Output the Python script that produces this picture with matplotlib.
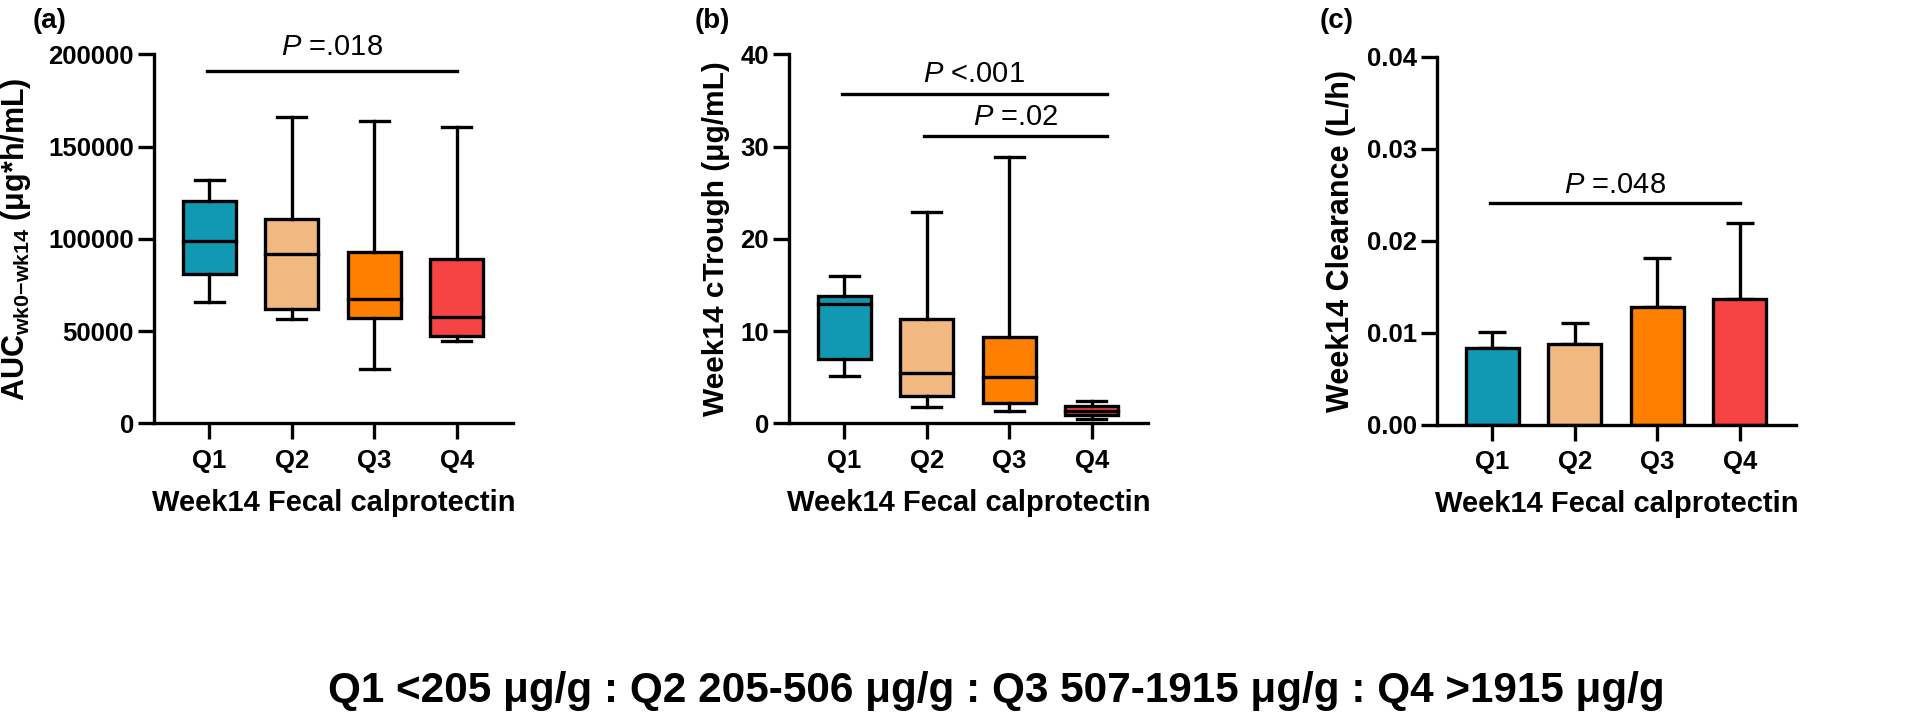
import numpy as np
import matplotlib
matplotlib.use("Agg")
import matplotlib.pyplot as plt
from matplotlib.ticker import FormatStrFormatter

plt.rcParams['font.family'] = ['Liberation Sans', 'DejaVu Sans']
plt.rcParams['font.weight'] = 'bold'
plt.rcParams['mathtext.fontset'] = 'custom'
plt.rcParams['mathtext.rm'] = 'Liberation Sans:bold'
plt.rcParams['mathtext.it'] = 'Liberation Sans:italic:normal'
plt.rcParams['mathtext.bf'] = 'Liberation Sans:bold'

# data
groups = ["Q1", "Q2", "Q3", "Q4"]
colors = ["#1199B4", "#F1B880", "#FF8000", "#F64343"]

# panel a: AUC wk0-wk14 (whislo, q1, med, q3, whishi)
auc_low = [65900, 56500, 29400, 44600]
auc_q1 = [80900, 62100, 57300, 47500]
auc_med = [98600, 91800, 67600, 57500]
auc_q3 = [120500, 110700, 92700, 88900]
auc_high = [131700, 165900, 163900, 160600]

# panel b: week14 cTrough
ctr_low = [5.13, 1.73, 1.34, 0.43]
ctr_q1 = [6.97, 2.96, 2.17, 0.90]
ctr_med = [12.97, 5.46, 4.99, 1.30]
ctr_q3 = [13.84, 11.3, 9.39, 1.92]
ctr_high = [15.94, 22.9, 28.9, 2.46]

# panel c: week14 clearance, mean + upper error
clr_mean = [0.00837, 0.0088, 0.01275, 0.01366]
clr_err = [0.00167, 0.00225, 0.00537, 0.00826]

LW = 2.4
x = np.arange(1, 5)

fig = plt.figure(figsize=(19.2, 7.16), dpi=100)
W = 359 / 1920
ax_a = fig.add_axes([154 / 1920, 1 - 423.3 / 716, W, 369 / 716])
ax_b = fig.add_axes([789 / 1920, 1 - 423.3 / 716, W, 369 / 716])
ax_c = fig.add_axes([1437 / 1920, 1 - 424.7 / 716, W, 368 / 716])


def style(ax, ylim, yticks):
    ax.set_xlim(0.333, 4.68)
    ax.set_ylim(*ylim)
    ax.set_yticks(yticks)
    ax.set_xticks(x)
    ax.set_xticklabels(groups)
    for s in ["top", "right"]:
        ax.spines[s].set_visible(False)
    for s in ["left", "bottom"]:
        ax.spines[s].set_linewidth(LW)
    ax.tick_params(axis="both", width=LW, length=11.5, labelsize=18.5)
    ax.tick_params(axis="x", pad=7)
    ax.tick_params(axis="y", pad=3)
    ax.set_xlabel("Week14 Fecal calprotectin", fontsize=21, fontweight="bold")
    ax.xaxis.set_label_coords(0.5, -0.178)


def boxes(ax, lo, q1, med, q3, hi):
    stats = []
    for i in range(4):
        stats.append(dict(whislo=lo[i], q1=q1[i], med=med[i], q3=q3[i], whishi=hi[i]))
    bp = ax.bxp(stats, positions=x, widths=0.64, showfliers=False, patch_artist=True,
                capwidths=0.35,
                boxprops=dict(linewidth=LW, edgecolor="black"),
                whiskerprops=dict(linewidth=LW, color="black"),
                capprops=dict(linewidth=LW, color="black"),
                medianprops=dict(linewidth=LW, color="black", solid_capstyle="projecting"))
    for patch, c in zip(bp["boxes"], colors):
        patch.set_facecolor(c)


def sig(ax, x0, x1, y, ty, txt):
    ax.plot([x0, x1], [y, y], color="black", lw=LW, clip_on=False)
    ax.text((x0 + x1) / 2, ty, txt, ha="center", va="center", fontsize=21,
            fontweight="normal", clip_on=False)


# (a)
boxes(ax_a, auc_low, auc_q1, auc_med, auc_q3, auc_high)
style(ax_a, (0, 200000), [0, 50000, 100000, 150000, 200000])
ax_a.set_ylabel(r"AUC$_{\mathregular{wk0{-}wk14}}$ ($\mathregular{\mu}$g*h/mL)", fontsize=22, fontweight="bold")
ax_a.yaxis.set_label_coords(-0.337, 0.5)
sig(ax_a, 0.97, 4.0, 190800, 204000, r"$\it{P}$ =.018")

# (b)
boxes(ax_b, ctr_low, ctr_q1, ctr_med, ctr_q3, ctr_high)
style(ax_b, (0, 40), [0, 10, 20, 30, 40])
ax_b.set_ylabel("Week14 cTrough (\u03bcg/mL)", fontsize=21.5, fontweight="bold")
ax_b.yaxis.set_label_coords(-0.164, 0.5)
sig(ax_b, 0.97, 4.18, 35.7, 37.9, r"$\it{P}$ <.001")
sig(ax_b, 1.97, 4.18, 31.1, 33.2, r"$\it{P}$ =.02")

# (c)
ax_c.bar(x, clr_mean, width=0.64, color=colors, edgecolor="black", linewidth=LW, zorder=2)
ax_c.errorbar(x, clr_mean, yerr=[np.zeros(4), clr_err], fmt="none", ecolor="black",
              elinewidth=LW, capsize=10, capthick=LW, zorder=1)
style(ax_c, (0, 0.04), [0, 0.01, 0.02, 0.03, 0.04])
ax_c.yaxis.set_major_formatter(FormatStrFormatter("%.2f"))
ax_c.set_ylabel("Week14 Clearance (L/h)", fontsize=22, fontweight="bold")
ax_c.yaxis.set_label_coords(-0.226, 0.5)
sig(ax_c, 0.97, 4.0, 0.0241, 0.0261, r"$\it{P}$ =.048")

# panel letters
fig.text(33 / 1920, 1 - 21 / 716, "(a)", fontsize=20, fontweight="bold", va="center")
fig.text(695 / 1920, 1 - 21 / 716, "(b)", fontsize=20, fontweight="bold", va="center")
fig.text(1320 / 1920, 1 - 21 / 716, "(c)", fontsize=20, fontweight="bold", va="center")

fig.text(996 / 1920, 1 - 702 / 716,
         "Q1 <205 \u03bcg/g : Q2 205-506 \u03bcg/g : Q3 507-1915 \u03bcg/g : Q4 >1915 \u03bcg/g",
         fontsize=30.4, fontweight="bold", ha="center", va="baseline")

fig.savefig("out.png", dpi=100)
